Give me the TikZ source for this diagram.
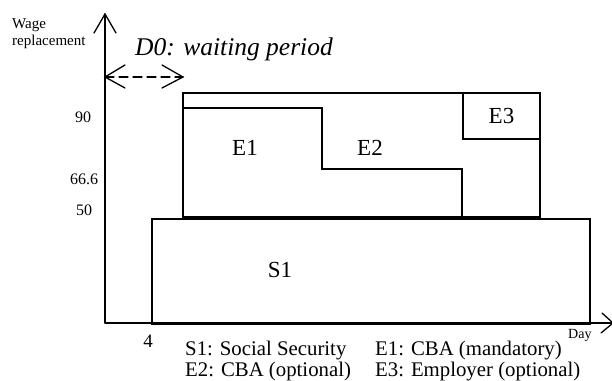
\documentclass[tikz,border=0pt]{standalone}
\usepackage{fontspec}
\setmainfont{Liberation Serif}
\begin{document}
\begin{tikzpicture}[x=1pt,y=-1pt,
  axis/.style={line width=1.3pt, line cap=round, line join=miter},
  boxline/.style={draw, line width=2pt, inner sep=0pt, anchor=north west},
  lbl/.style={font=\fontsize{23}{26}\selectfont, inner sep=0pt},
  tick/.style={font=\fontsize{16}{18}\selectfont, inner sep=0pt},
  legend/.style={font=\fontsize{20.8}{22}\selectfont, inner sep=0pt, anchor=base west}]
\useasboundingbox (0,0) rectangle (612,380);
% axes
\coordinate (O) at (105,323);
\coordinate (ytop) at (105,14);
\coordinate (xend) at (613,323);
\draw[axis] (O) -- (ytop);
\draw[axis] (94,33) -- (ytop) -- (116,33);
\draw[axis] (O) -- (xend);
\draw[axis] (602,313) -- (xend) -- (601,333);
% waiting period
\coordinate (d0a) at (105,77);
\coordinate (d0b) at (183,77);
\draw[axis, dash pattern=on 9pt off 5pt] (d0a) -- (d0b);
\draw[axis] (125,65) -- (d0a) -- (125,88);
\draw[axis] (162,65) -- (d0b) -- (162,88);
\node[inner sep=0pt, anchor=base west, font=\fontsize{25.5}{28}\selectfont\itshape] (d0) at (135,55) {D0: waiting period};
% axis labels
\node[inner sep=0pt, anchor=base west, font=\fontsize{15}{17}\selectfont] (wage) at (12,28) {Wage};
\node[inner sep=0pt, anchor=base west, font=\fontsize{15}{17}\selectfont] (repl) at (12,45) {replacement};
\node[inner sep=0pt, anchor=base west, font=\fontsize{14}{16}\selectfont] (day) at (568,338) {Day};
\node[tick] (t90) at (83,117) {90};
\node[tick] (t666) at (84,179) {66.6};
\node[tick] (t50) at (84,210) {50};
\node[inner sep=0pt, font=\fontsize{19}{21}\selectfont] (t4) at (148,341) {4};
% boxes
\node[boxline, minimum width=438, minimum height=105] (S1box) at (151,218) {};
\node[boxline, minimum width=357, minimum height=124] (Ebox) at (182,92) {};
\node[boxline, minimum width=77, minimum height=46] (E3box) at (462,92) {};
\coordinate (e1a) at (182,108);
\coordinate (e1b) at (322,108);
\coordinate (e1c) at (322,169);
\coordinate (e1d) at (462,169);
\draw[line width=2pt] (e1a) -- (e1b) -- (e1c) -- (e1d) -- (e1d |- Ebox.south);
% box labels
\node[lbl] (S1) at (280,270) {S1};
\node[lbl] (E1) at (245,148) {E1};
\node[lbl] (E2) at (370,148) {E2};
\node[lbl] (E3) at (E3box.center) {E3};
% legend
\node[legend] (l1) at (185,355) {S1: Social Security};
\node[legend] (l2) at (375,355) {E1: CBA (mandatory)};
\node[legend] (l3) at (185,376) {E2: CBA (optional)};
\node[legend] (l4) at (375,376) {E3: Employer (optional)};
\end{tikzpicture}
\end{document}
